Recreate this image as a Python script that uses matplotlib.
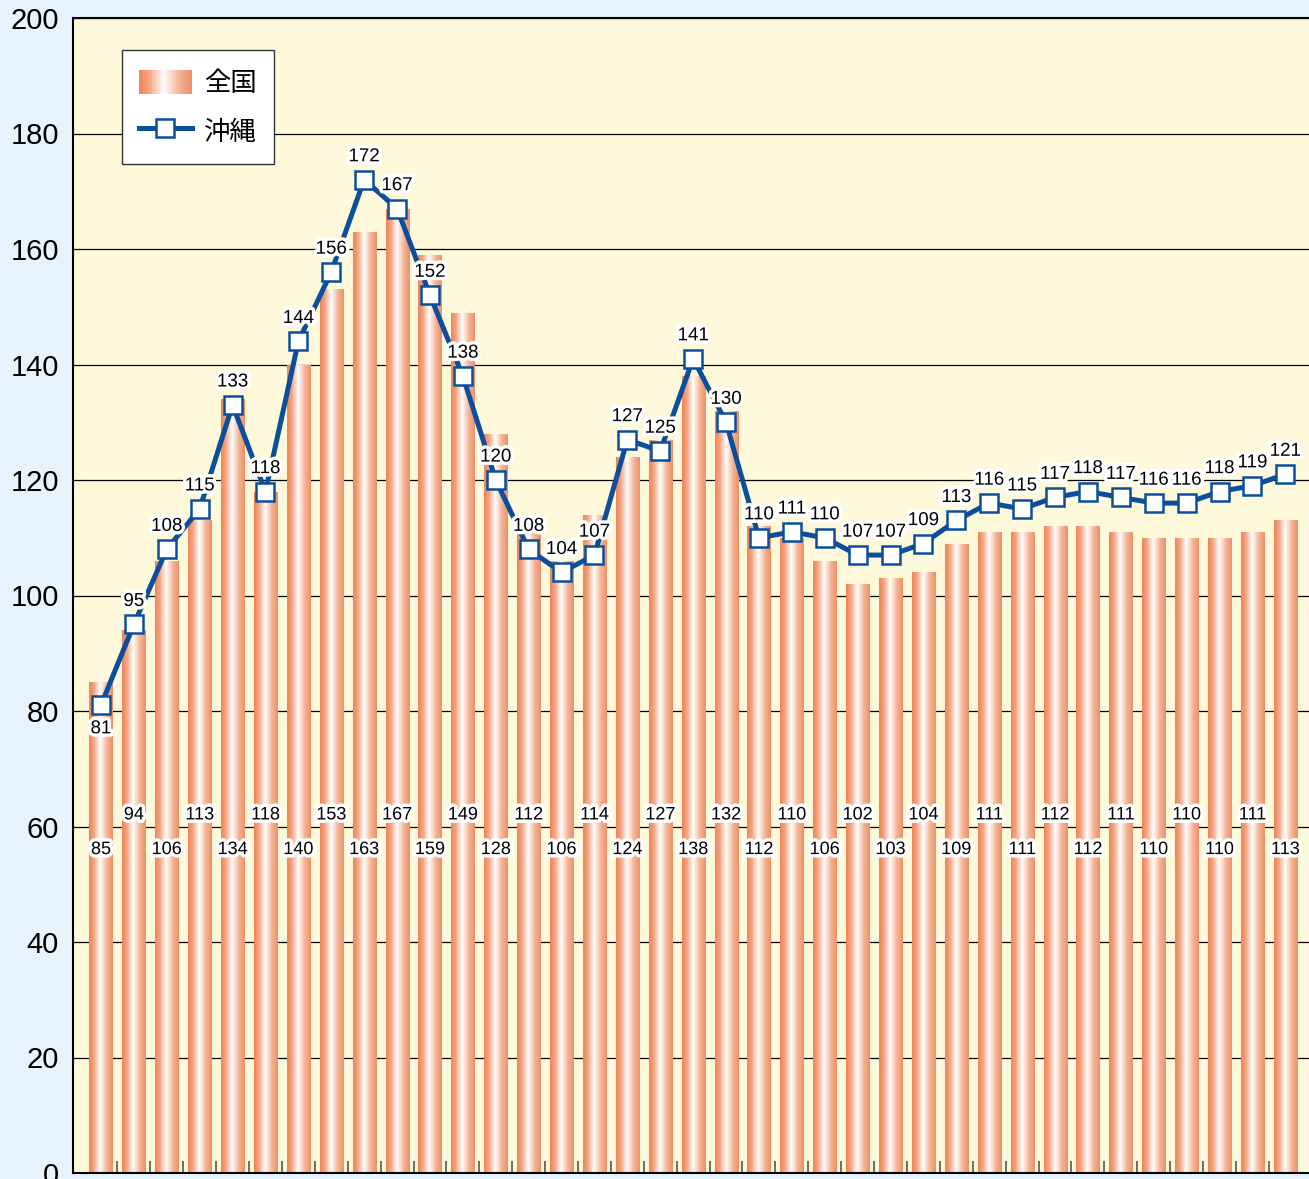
import numpy as np
import matplotlib.pyplot as plt
import matplotlib.patheffects as pe
from matplotlib.colors import LinearSegmentedColormap
from matplotlib.patches import Rectangle
from matplotlib.lines import Line2D
from matplotlib.legend_handler import HandlerBase

# 全国 (bars) and 沖縄 (line)
zenkoku = [85, 94, 106, 113, 134, 118, 140, 153, 163, 167, 159, 149, 128, 112, 106, 114,
           124, 127, 138, 132, 112, 110, 106, 102, 103, 104, 109, 111, 111, 112, 112, 111,
           110, 110, 110, 111, 113]
okinawa = [81, 95, 108, 115, 133, 118, 144, 156, 172, 167, 152, 138, 120, 108, 104, 107,
           127, 125, 141, 130, 110, 111, 110, 107, 107, 109, 113, 116, 115, 117, 118, 117,
           116, 116, 118, 119, 121]
yticks = [0, 20, 40, 60, 80, 100, 120, 140, 160, 180, 200]

plt.rcParams['font.family'] = ['Liberation Sans', 'Noto Sans CJK JP', 'DejaVu Sans']

bar_cmap = LinearSegmentedColormap.from_list(
    'bar', [(0, '#ee8458'), (0.2, '#f4a683'), (0.47, '#ffffff'), (0.75, '#f4b597'), (1, '#ef8f66')])
grad = np.linspace(0, 1, 64).reshape(1, -1)

line_color = '#0b4f9c'
outline = [pe.withStroke(linewidth=5, foreground='white')]

fig = plt.figure(figsize=(13.09, 11.79), dpi=100, facecolor='#e7f4fd')
ax = fig.add_axes([73 / 1309, 6 / 1179, 1 - 73 / 1309, (1173 - 18) / 1179])
ax.set_facecolor('#fef9da')

x = np.arange(len(zenkoku))
bars = ax.bar(x, zenkoku, width=0.7, color='none', zorder=2)
for b in bars:
    x0 = b.get_x()
    w = b.get_width()
    h = b.get_height()
    im = ax.imshow(grad, extent=[x0, x0 + w, 0, h], aspect='auto', cmap=bar_cmap,
                   interpolation='bilinear', zorder=2)
    im.set_clip_path(b)

# bar labels, staggered
for i, v in enumerate(zenkoku):
    yy = 62 if i % 2 == 1 else 56
    ax.text(i, yy, str(v), ha='center', va='center', fontsize=13, zorder=5,
            path_effects=outline)

ax.plot(x, okinawa, color=line_color, lw=3.6, marker='s', ms=13, mfc='white',
        mec=line_color, mew=1.8, zorder=4)

for i, v in enumerate(okinawa):
    if i == 0:
        ax.annotate(str(v), (i, v), xytext=(0, -17), textcoords='offset points',
                    ha='center', va='center', fontsize=13.5, zorder=6, path_effects=outline)
    else:
        ax.annotate(str(v), (i, v), xytext=(0, 16.5), textcoords='offset points',
                    ha='center', va='center', fontsize=13.5, zorder=6, path_effects=outline)

ax.set_xlim(-0.85, 36.72)
ax.set_ylim(0, 200)
ax.set_yticks(yticks)
ax.tick_params(axis='y', length=0, labelsize=21, pad=10)
ax.set_xticks(np.arange(0.5, 36, 1))
ax.set_xticklabels([])
ax.tick_params(axis='x', direction='in', length=9, width=1.2, color='#555555')
ax.grid(axis='y', color='black', lw=0.9, zorder=1)
ax.set_axisbelow(True)
for s in ['left', 'bottom', 'top']:
    ax.spines[s].set_linewidth(1.5)
ax.spines['right'].set_visible(False)


class GradientHandler(HandlerBase):
    def create_artists(self, legend, orig_handle, xdescent, ydescent, width, height,
                       fontsize, trans):
        n = 40
        arts = []
        for k in range(n):
            c = bar_cmap((k + 0.5) / n)
            r = Rectangle((-xdescent + width * k / n, -ydescent + height * 0.1),
                          width / n + 0.3, height * 0.8, facecolor=c, edgecolor='none',
                          transform=trans)
            arts.append(r)
        return arts


bar_handle = Rectangle((0, 0), 1, 1)
line_handle = Line2D([], [], color=line_color, lw=3.6, marker='s', ms=13, mfc='white',
                     mec=line_color, mew=1.8)
leg = ax.legend([bar_handle, line_handle], ['全国', '沖縄'],
                handler_map={Rectangle: GradientHandler()},
                loc='upper left', bbox_to_anchor=(0.0395, 0.9725),
                prop={'family': ['Noto Sans CJK JP'], 'size': 19},
                frameon=True, fancybox=False, edgecolor='#333333', framealpha=1,
                handlelength=2.0, handleheight=1.37, labelspacing=0.74,
                borderpad=0.65, handletextpad=0.45, borderaxespad=0)
leg.get_frame().set_linewidth(1.0)
leg.set_zorder(10)

fig.savefig('out.png', dpi=100, facecolor=fig.get_facecolor())
